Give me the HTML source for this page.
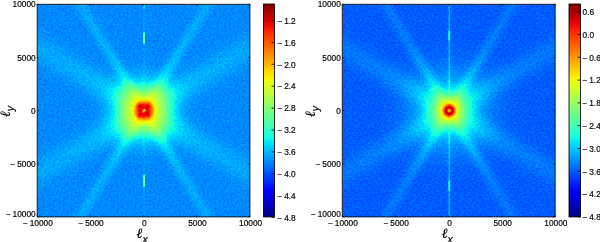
<!DOCTYPE html>
<html><head><meta charset="utf-8"><style>
html,body{margin:0;padding:0;background:#fff;width:600px;height:242px;overflow:hidden}
svg{position:absolute;left:0;top:0;display:block}
.tk{font-family:"Liberation Sans",sans-serif;font-size:8.3px;fill:#000;stroke:#000;stroke-width:0.18px}
.txt{opacity:0.99}
.al{font-family:"Liberation Serif",serif;font-style:italic;font-size:14px;fill:#000;stroke:#000;stroke-width:0.2px}
.sb{font-family:"Liberation Sans",sans-serif;font-style:italic;font-size:10.5px}
</style></head><body>
<svg width="600" height="242" viewBox="0 0 600 242">
<defs>
<filter id="jL" filterUnits="userSpaceOnUse" x="0" y="0" width="212.7" height="212.6" color-interpolation-filters="sRGB">
<feTurbulence type="fractalNoise" baseFrequency="0.5" numOctaves="2" seed="3" result="t"/>
<feColorMatrix in="t" type="matrix" values="1 0 0 0 0 1 0 0 0 0 1 0 0 0 0 0 0 0 0 1" result="n"/>
<feComposite in="SourceGraphic" in2="n" operator="arithmetic" k1="0" k2="1" k3="0.085" k4="-0.0425" result="s"/>
<feComponentTransfer in="s">
<feFuncR type="table" tableValues="0 0 0 0 0 0 0 0 0 0 0 0 0 0 0 0 0 0 0 0 0 0 0 0 0 0 0 0 0 0 0 0 0 0 0.0134 0.047 0.0806 0.114 0.148 0.181 0.215 0.249 0.282 0.316 0.349 0.383 0.417 0.45 0.484 0.517 0.551 0.585 0.618 0.652 0.685 0.719 0.753 0.786 0.82 0.853 0.887 0.921 0.954 0.988 1 1 1 1 1 1 1 1 1 1 1 1 1 1 1 1 1 1 1 1 1 1 0.973 0.926 0.879 0.831 0.784 0.737 0.689 0.642 0.595 0.547 0.5"/>
<feFuncG type="table" tableValues="0 0 0 0 0 0 0 0 0 0 0 0 0 0.0417 0.0833 0.125 0.167 0.208 0.25 0.292 0.333 0.375 0.417 0.458 0.5 0.542 0.583 0.625 0.667 0.708 0.75 0.792 0.833 0.875 0.917 0.958 1 1 1 1 1 1 1 1 1 1 1 1 1 1 1 1 1 1 1 1 1 1 1 1 1 1 0.978 0.94 0.901 0.863 0.824 0.785 0.747 0.708 0.67 0.631 0.593 0.554 0.515 0.477 0.438 0.4 0.361 0.323 0.284 0.245 0.207 0.168 0.13 0.091 0.0525 0.0139 0 0 0 0 0 0 0 0 0"/>
<feFuncB type="table" tableValues="0.5 0.547 0.595 0.642 0.689 0.737 0.784 0.831 0.879 0.926 0.973 1 1 1 1 1 1 1 1 1 1 1 1 1 1 1 1 1 1 1 1 1 1 0.988 0.954 0.921 0.887 0.853 0.82 0.786 0.753 0.719 0.685 0.652 0.618 0.585 0.551 0.517 0.484 0.45 0.417 0.383 0.349 0.316 0.282 0.249 0.215 0.181 0.148 0.114 0.0806 0.047 0.0134 0 0 0 0 0 0 0 0 0 0 0 0 0 0 0 0 0 0 0 0 0 0 0 0 0 0 0 0 0 0 0 0 0 0"/>
</feComponentTransfer>
</filter>
<filter id="jR" filterUnits="userSpaceOnUse" x="0" y="0" width="212.9" height="212.6" color-interpolation-filters="sRGB">
<feTurbulence type="fractalNoise" baseFrequency="0.5" numOctaves="2" seed="7" result="t"/>
<feColorMatrix in="t" type="matrix" values="1 0 0 0 0 1 0 0 0 0 1 0 0 0 0 0 0 0 0 1" result="n"/>
<feComposite in="SourceGraphic" in2="n" operator="arithmetic" k1="0" k2="1" k3="0.085" k4="-0.0425" result="s"/>
<feComponentTransfer in="s">
<feFuncR type="table" tableValues="0 0 0 0 0 0 0 0 0 0 0 0 0 0 0 0 0 0 0 0 0 0 0 0 0 0 0 0 0 0 0 0 0 0 0.0134 0.047 0.0806 0.114 0.148 0.181 0.215 0.249 0.282 0.316 0.349 0.383 0.417 0.45 0.484 0.517 0.551 0.585 0.618 0.652 0.685 0.719 0.753 0.786 0.82 0.853 0.887 0.921 0.954 0.988 1 1 1 1 1 1 1 1 1 1 1 1 1 1 1 1 1 1 1 1 1 1 0.973 0.926 0.879 0.831 0.784 0.737 0.689 0.642 0.595 0.547 0.5"/>
<feFuncG type="table" tableValues="0 0 0 0 0 0 0 0 0 0 0 0 0 0.0417 0.0833 0.125 0.167 0.208 0.25 0.292 0.333 0.375 0.417 0.458 0.5 0.542 0.583 0.625 0.667 0.708 0.75 0.792 0.833 0.875 0.917 0.958 1 1 1 1 1 1 1 1 1 1 1 1 1 1 1 1 1 1 1 1 1 1 1 1 1 1 0.978 0.94 0.901 0.863 0.824 0.785 0.747 0.708 0.67 0.631 0.593 0.554 0.515 0.477 0.438 0.4 0.361 0.323 0.284 0.245 0.207 0.168 0.13 0.091 0.0525 0.0139 0 0 0 0 0 0 0 0 0"/>
<feFuncB type="table" tableValues="0.5 0.547 0.595 0.642 0.689 0.737 0.784 0.831 0.879 0.926 0.973 1 1 1 1 1 1 1 1 1 1 1 1 1 1 1 1 1 1 1 1 1 1 0.988 0.954 0.921 0.887 0.853 0.82 0.786 0.753 0.719 0.685 0.652 0.618 0.585 0.551 0.517 0.484 0.45 0.417 0.383 0.349 0.316 0.282 0.249 0.215 0.181 0.148 0.114 0.0806 0.047 0.0134 0 0 0 0 0 0 0 0 0 0 0 0 0 0 0 0 0 0 0 0 0 0 0 0 0 0 0 0 0 0 0 0 0 0"/>
</feComponentTransfer>
</filter>
<filter id="Lsb0" filterUnits="userSpaceOnUse" x="-200" y="-60" width="400" height="120"><feGaussianBlur stdDeviation="3"/></filter><linearGradient id="Lsg0" x1="-160" y1="0" x2="160" y2="0" gradientUnits="userSpaceOnUse"><stop offset="0.0000" stop-color="#fff" stop-opacity="0.050"/><stop offset="0.2500" stop-color="#fff" stop-opacity="0.070"/><stop offset="0.3438" stop-color="#fff" stop-opacity="0.105"/><stop offset="0.4062" stop-color="#fff" stop-opacity="0.150"/><stop offset="0.4625" stop-color="#fff" stop-opacity="0.180"/><stop offset="0.5000" stop-color="#fff" stop-opacity="0.000"/><stop offset="0.5375" stop-color="#fff" stop-opacity="0.180"/><stop offset="0.5938" stop-color="#fff" stop-opacity="0.150"/><stop offset="0.6562" stop-color="#fff" stop-opacity="0.105"/><stop offset="0.7500" stop-color="#fff" stop-opacity="0.070"/><stop offset="1.0000" stop-color="#fff" stop-opacity="0.050"/></linearGradient><filter id="Lsb1" filterUnits="userSpaceOnUse" x="-200" y="-60" width="400" height="120"><feGaussianBlur stdDeviation="3"/></filter><linearGradient id="Lsg1" x1="-160" y1="0" x2="160" y2="0" gradientUnits="userSpaceOnUse"><stop offset="0.0000" stop-color="#fff" stop-opacity="0.050"/><stop offset="0.2500" stop-color="#fff" stop-opacity="0.070"/><stop offset="0.3438" stop-color="#fff" stop-opacity="0.105"/><stop offset="0.4062" stop-color="#fff" stop-opacity="0.150"/><stop offset="0.4625" stop-color="#fff" stop-opacity="0.180"/><stop offset="0.5000" stop-color="#fff" stop-opacity="0.000"/><stop offset="0.5375" stop-color="#fff" stop-opacity="0.180"/><stop offset="0.5938" stop-color="#fff" stop-opacity="0.150"/><stop offset="0.6562" stop-color="#fff" stop-opacity="0.105"/><stop offset="0.7500" stop-color="#fff" stop-opacity="0.070"/><stop offset="1.0000" stop-color="#fff" stop-opacity="0.050"/></linearGradient><filter id="Lsb2" filterUnits="userSpaceOnUse" x="-200" y="-60" width="400" height="120"><feGaussianBlur stdDeviation="7"/></filter><linearGradient id="Lsg2" x1="-160" y1="0" x2="160" y2="0" gradientUnits="userSpaceOnUse"><stop offset="0.0000" stop-color="#fff" stop-opacity="0.040"/><stop offset="0.2500" stop-color="#fff" stop-opacity="0.060"/><stop offset="0.3438" stop-color="#fff" stop-opacity="0.080"/><stop offset="0.4062" stop-color="#fff" stop-opacity="0.110"/><stop offset="0.4625" stop-color="#fff" stop-opacity="0.140"/><stop offset="0.5000" stop-color="#fff" stop-opacity="0.000"/><stop offset="0.5375" stop-color="#fff" stop-opacity="0.140"/><stop offset="0.5938" stop-color="#fff" stop-opacity="0.110"/><stop offset="0.6562" stop-color="#fff" stop-opacity="0.080"/><stop offset="0.7500" stop-color="#fff" stop-opacity="0.060"/><stop offset="1.0000" stop-color="#fff" stop-opacity="0.040"/></linearGradient><filter id="Lsb3" filterUnits="userSpaceOnUse" x="-200" y="-60" width="400" height="120"><feGaussianBlur stdDeviation="7"/></filter><linearGradient id="Lsg3" x1="-160" y1="0" x2="160" y2="0" gradientUnits="userSpaceOnUse"><stop offset="0.0000" stop-color="#fff" stop-opacity="0.040"/><stop offset="0.2500" stop-color="#fff" stop-opacity="0.060"/><stop offset="0.3438" stop-color="#fff" stop-opacity="0.080"/><stop offset="0.4062" stop-color="#fff" stop-opacity="0.110"/><stop offset="0.4625" stop-color="#fff" stop-opacity="0.140"/><stop offset="0.5000" stop-color="#fff" stop-opacity="0.000"/><stop offset="0.5375" stop-color="#fff" stop-opacity="0.140"/><stop offset="0.5938" stop-color="#fff" stop-opacity="0.110"/><stop offset="0.6562" stop-color="#fff" stop-opacity="0.080"/><stop offset="0.7500" stop-color="#fff" stop-opacity="0.060"/><stop offset="1.0000" stop-color="#fff" stop-opacity="0.040"/></linearGradient><filter id="Lqb0" filterUnits="userSpaceOnUse" x="-150" y="-150" width="300" height="300"><feGaussianBlur stdDeviation="4.2821514006054"/></filter><filter id="Lqb1" filterUnits="userSpaceOnUse" x="-150" y="-150" width="300" height="300"><feGaussianBlur stdDeviation="4.000000000000001"/></filter><filter id="Lqb2" filterUnits="userSpaceOnUse" x="-150" y="-150" width="300" height="300"><feGaussianBlur stdDeviation="17.001211208011913"/></filter><radialGradient id="Lrg" cx="0" cy="0" r="14" gradientUnits="userSpaceOnUse"><stop offset="0.000" stop-color="#fff" stop-opacity="0.000"/><stop offset="0.033" stop-color="#fff" stop-opacity="0.150"/><stop offset="0.067" stop-color="#fff" stop-opacity="0.300"/><stop offset="0.100" stop-color="#fff" stop-opacity="0.451"/><stop offset="0.133" stop-color="#fff" stop-opacity="0.527"/><stop offset="0.167" stop-color="#fff" stop-opacity="0.583"/><stop offset="0.200" stop-color="#fff" stop-opacity="0.640"/><stop offset="0.233" stop-color="#fff" stop-opacity="0.658"/><stop offset="0.267" stop-color="#fff" stop-opacity="0.648"/><stop offset="0.300" stop-color="#fff" stop-opacity="0.639"/><stop offset="0.333" stop-color="#fff" stop-opacity="0.618"/><stop offset="0.367" stop-color="#fff" stop-opacity="0.578"/><stop offset="0.400" stop-color="#fff" stop-opacity="0.538"/><stop offset="0.433" stop-color="#fff" stop-opacity="0.497"/><stop offset="0.467" stop-color="#fff" stop-opacity="0.446"/><stop offset="0.500" stop-color="#fff" stop-opacity="0.396"/><stop offset="0.533" stop-color="#fff" stop-opacity="0.345"/><stop offset="0.567" stop-color="#fff" stop-opacity="0.298"/><stop offset="0.600" stop-color="#fff" stop-opacity="0.251"/><stop offset="0.633" stop-color="#fff" stop-opacity="0.203"/><stop offset="0.667" stop-color="#fff" stop-opacity="0.164"/><stop offset="0.700" stop-color="#fff" stop-opacity="0.127"/><stop offset="0.733" stop-color="#fff" stop-opacity="0.090"/><stop offset="0.767" stop-color="#fff" stop-opacity="0.062"/><stop offset="0.800" stop-color="#fff" stop-opacity="0.043"/><stop offset="0.833" stop-color="#fff" stop-opacity="0.023"/><stop offset="0.867" stop-color="#fff" stop-opacity="0.009"/><stop offset="0.900" stop-color="#fff" stop-opacity="0.007"/><stop offset="0.933" stop-color="#fff" stop-opacity="0.004"/><stop offset="0.967" stop-color="#fff" stop-opacity="0.002"/><stop offset="1.000" stop-color="#fff" stop-opacity="0.000"/></radialGradient><filter id="Lvb1" filterUnits="userSpaceOnUse" x="-10" y="-120" width="20" height="240"><feGaussianBlur stdDeviation="0.6"/></filter><filter id="Lvb2" filterUnits="userSpaceOnUse" x="-10" y="-120" width="20" height="240"><feGaussianBlur stdDeviation="0.7"/></filter><filter id="Lvb3" filterUnits="userSpaceOnUse" x="-10" y="-120" width="20" height="240"><feGaussianBlur stdDeviation="0.7"/></filter><filter id="Rsb0" filterUnits="userSpaceOnUse" x="-200" y="-60" width="400" height="120"><feGaussianBlur stdDeviation="3"/></filter><linearGradient id="Rsg0" x1="-160" y1="0" x2="160" y2="0" gradientUnits="userSpaceOnUse"><stop offset="0.0000" stop-color="#fff" stop-opacity="0.030"/><stop offset="0.2500" stop-color="#fff" stop-opacity="0.060"/><stop offset="0.3438" stop-color="#fff" stop-opacity="0.095"/><stop offset="0.4062" stop-color="#fff" stop-opacity="0.130"/><stop offset="0.4625" stop-color="#fff" stop-opacity="0.150"/><stop offset="0.5000" stop-color="#fff" stop-opacity="0.000"/><stop offset="0.5375" stop-color="#fff" stop-opacity="0.150"/><stop offset="0.5938" stop-color="#fff" stop-opacity="0.130"/><stop offset="0.6562" stop-color="#fff" stop-opacity="0.095"/><stop offset="0.7500" stop-color="#fff" stop-opacity="0.060"/><stop offset="1.0000" stop-color="#fff" stop-opacity="0.030"/></linearGradient><filter id="Rsb1" filterUnits="userSpaceOnUse" x="-200" y="-60" width="400" height="120"><feGaussianBlur stdDeviation="3"/></filter><linearGradient id="Rsg1" x1="-160" y1="0" x2="160" y2="0" gradientUnits="userSpaceOnUse"><stop offset="0.0000" stop-color="#fff" stop-opacity="0.030"/><stop offset="0.2500" stop-color="#fff" stop-opacity="0.060"/><stop offset="0.3438" stop-color="#fff" stop-opacity="0.095"/><stop offset="0.4062" stop-color="#fff" stop-opacity="0.130"/><stop offset="0.4625" stop-color="#fff" stop-opacity="0.150"/><stop offset="0.5000" stop-color="#fff" stop-opacity="0.000"/><stop offset="0.5375" stop-color="#fff" stop-opacity="0.150"/><stop offset="0.5938" stop-color="#fff" stop-opacity="0.130"/><stop offset="0.6562" stop-color="#fff" stop-opacity="0.095"/><stop offset="0.7500" stop-color="#fff" stop-opacity="0.060"/><stop offset="1.0000" stop-color="#fff" stop-opacity="0.030"/></linearGradient><filter id="Rsb2" filterUnits="userSpaceOnUse" x="-200" y="-60" width="400" height="120"><feGaussianBlur stdDeviation="6"/></filter><linearGradient id="Rsg2" x1="-160" y1="0" x2="160" y2="0" gradientUnits="userSpaceOnUse"><stop offset="0.0000" stop-color="#fff" stop-opacity="0.035"/><stop offset="0.2500" stop-color="#fff" stop-opacity="0.050"/><stop offset="0.3438" stop-color="#fff" stop-opacity="0.070"/><stop offset="0.4062" stop-color="#fff" stop-opacity="0.090"/><stop offset="0.4625" stop-color="#fff" stop-opacity="0.110"/><stop offset="0.5000" stop-color="#fff" stop-opacity="0.000"/><stop offset="0.5375" stop-color="#fff" stop-opacity="0.110"/><stop offset="0.5938" stop-color="#fff" stop-opacity="0.090"/><stop offset="0.6562" stop-color="#fff" stop-opacity="0.070"/><stop offset="0.7500" stop-color="#fff" stop-opacity="0.050"/><stop offset="1.0000" stop-color="#fff" stop-opacity="0.035"/></linearGradient><filter id="Rsb3" filterUnits="userSpaceOnUse" x="-200" y="-60" width="400" height="120"><feGaussianBlur stdDeviation="6"/></filter><linearGradient id="Rsg3" x1="-160" y1="0" x2="160" y2="0" gradientUnits="userSpaceOnUse"><stop offset="0.0000" stop-color="#fff" stop-opacity="0.035"/><stop offset="0.2500" stop-color="#fff" stop-opacity="0.050"/><stop offset="0.3438" stop-color="#fff" stop-opacity="0.070"/><stop offset="0.4062" stop-color="#fff" stop-opacity="0.090"/><stop offset="0.4625" stop-color="#fff" stop-opacity="0.110"/><stop offset="0.5000" stop-color="#fff" stop-opacity="0.000"/><stop offset="0.5375" stop-color="#fff" stop-opacity="0.110"/><stop offset="0.5938" stop-color="#fff" stop-opacity="0.090"/><stop offset="0.6562" stop-color="#fff" stop-opacity="0.070"/><stop offset="0.7500" stop-color="#fff" stop-opacity="0.050"/><stop offset="1.0000" stop-color="#fff" stop-opacity="0.035"/></linearGradient><filter id="Rqb0" filterUnits="userSpaceOnUse" x="-150" y="-150" width="300" height="300"><feGaussianBlur stdDeviation="10.549509258770001"/></filter><filter id="Rqb1" filterUnits="userSpaceOnUse" x="-150" y="-150" width="300" height="300"><feGaussianBlur stdDeviation="3.1570138598682327"/></filter><filter id="Rqb2" filterUnits="userSpaceOnUse" x="-150" y="-150" width="300" height="300"><feGaussianBlur stdDeviation="24.43419254232539"/></filter><radialGradient id="Rrg" cx="0" cy="0" r="10" gradientUnits="userSpaceOnUse"><stop offset="0.000" stop-color="#fff" stop-opacity="0.000"/><stop offset="0.033" stop-color="#fff" stop-opacity="0.058"/><stop offset="0.067" stop-color="#fff" stop-opacity="0.117"/><stop offset="0.100" stop-color="#fff" stop-opacity="0.175"/><stop offset="0.133" stop-color="#fff" stop-opacity="0.328"/><stop offset="0.167" stop-color="#fff" stop-opacity="0.481"/><stop offset="0.200" stop-color="#fff" stop-opacity="0.634"/><stop offset="0.233" stop-color="#fff" stop-opacity="0.708"/><stop offset="0.267" stop-color="#fff" stop-opacity="0.783"/><stop offset="0.300" stop-color="#fff" stop-opacity="0.858"/><stop offset="0.333" stop-color="#fff" stop-opacity="0.831"/><stop offset="0.367" stop-color="#fff" stop-opacity="0.804"/><stop offset="0.400" stop-color="#fff" stop-opacity="0.777"/><stop offset="0.433" stop-color="#fff" stop-opacity="0.711"/><stop offset="0.467" stop-color="#fff" stop-opacity="0.646"/><stop offset="0.500" stop-color="#fff" stop-opacity="0.580"/><stop offset="0.533" stop-color="#fff" stop-opacity="0.511"/><stop offset="0.567" stop-color="#fff" stop-opacity="0.442"/><stop offset="0.600" stop-color="#fff" stop-opacity="0.373"/><stop offset="0.633" stop-color="#fff" stop-opacity="0.305"/><stop offset="0.667" stop-color="#fff" stop-opacity="0.237"/><stop offset="0.700" stop-color="#fff" stop-opacity="0.170"/><stop offset="0.733" stop-color="#fff" stop-opacity="0.151"/><stop offset="0.767" stop-color="#fff" stop-opacity="0.133"/><stop offset="0.800" stop-color="#fff" stop-opacity="0.115"/><stop offset="0.833" stop-color="#fff" stop-opacity="0.095"/><stop offset="0.867" stop-color="#fff" stop-opacity="0.076"/><stop offset="0.900" stop-color="#fff" stop-opacity="0.057"/><stop offset="0.933" stop-color="#fff" stop-opacity="0.038"/><stop offset="0.967" stop-color="#fff" stop-opacity="0.019"/><stop offset="1.000" stop-color="#fff" stop-opacity="0.000"/></radialGradient><filter id="Rvb1" filterUnits="userSpaceOnUse" x="-10" y="-120" width="20" height="240"><feGaussianBlur stdDeviation="0.8"/></filter><filter id="Rvb2" filterUnits="userSpaceOnUse" x="-10" y="-120" width="20" height="240"><feGaussianBlur stdDeviation="0.7"/></filter><filter id="Rvb3" filterUnits="userSpaceOnUse" x="-10" y="-120" width="20" height="240"><feGaussianBlur stdDeviation="0.7"/></filter>
<linearGradient id="cg" x1="0" y1="0" x2="0" y2="1"><stop offset="0.0000" stop-color="#800000"/><stop offset="0.0250" stop-color="#9c0000"/><stop offset="0.0500" stop-color="#b90000"/><stop offset="0.0750" stop-color="#d60000"/><stop offset="0.1000" stop-color="#f30900"/><stop offset="0.1250" stop-color="#ff2100"/><stop offset="0.1500" stop-color="#ff3900"/><stop offset="0.1750" stop-color="#ff5000"/><stop offset="0.2000" stop-color="#ff6800"/><stop offset="0.2250" stop-color="#ff8000"/><stop offset="0.2500" stop-color="#ff9700"/><stop offset="0.2750" stop-color="#ffaf00"/><stop offset="0.3000" stop-color="#ffc600"/><stop offset="0.3250" stop-color="#ffde00"/><stop offset="0.3500" stop-color="#f7f600"/><stop offset="0.3750" stop-color="#e2ff15"/><stop offset="0.4000" stop-color="#ceff29"/><stop offset="0.4250" stop-color="#b9ff3e"/><stop offset="0.4500" stop-color="#a5ff52"/><stop offset="0.4750" stop-color="#90ff67"/><stop offset="0.5000" stop-color="#7bff7b"/><stop offset="0.5250" stop-color="#67ff90"/><stop offset="0.5500" stop-color="#52ffa5"/><stop offset="0.5750" stop-color="#3effb9"/><stop offset="0.6000" stop-color="#29ffce"/><stop offset="0.6250" stop-color="#15ffe2"/><stop offset="0.6500" stop-color="#00e5f7"/><stop offset="0.6750" stop-color="#00ccff"/><stop offset="0.7000" stop-color="#00b3ff"/><stop offset="0.7250" stop-color="#0099ff"/><stop offset="0.7500" stop-color="#0080ff"/><stop offset="0.7750" stop-color="#0066ff"/><stop offset="0.8000" stop-color="#004cff"/><stop offset="0.8250" stop-color="#0033ff"/><stop offset="0.8500" stop-color="#001aff"/><stop offset="0.8750" stop-color="#0000ff"/><stop offset="0.9000" stop-color="#0000f3"/><stop offset="0.9250" stop-color="#0000d6"/><stop offset="0.9500" stop-color="#0000b9"/><stop offset="0.9750" stop-color="#00009c"/><stop offset="1.0000" stop-color="#000080"/></linearGradient>
<filter id="Llb" filterUnits="userSpaceOnUse" x="-20" y="-20" width="40" height="40"><feGaussianBlur stdDeviation="1.2"/></filter><filter id="Lcb" filterUnits="userSpaceOnUse" x="-10" y="-10" width="20" height="20"><feGaussianBlur stdDeviation="0.5"/></filter>
<clipPath id="cpL"><rect x="0" y="0" width="212.7" height="212.6"/></clipPath>
<clipPath id="cpR"><rect x="0" y="0" width="212.9" height="212.6"/></clipPath>
</defs>
<g transform="translate(37.2,4.3)" clip-path="url(#cpL)"><g filter="url(#jL)"><rect x="0" y="0" width="212.7" height="212.6" fill="rgb(66,66,66)"/><g transform="translate(106.8,106.3)"><g transform="rotate(-59)"><rect x="-160" y="-3.5" width="320" height="7" fill="url(#Lsg0)" filter="url(#Lsb0)"/></g><g transform="rotate(59)"><rect x="-160" y="-3.5" width="320" height="7" fill="url(#Lsg1)" filter="url(#Lsb1)"/></g><g transform="rotate(-30.5)"><rect x="-160" y="-9.0" width="320" height="18" fill="url(#Lsg2)" filter="url(#Lsb2)"/></g><g transform="rotate(30.5)"><rect x="-160" y="-9.0" width="320" height="18" fill="url(#Lsg3)" filter="url(#Lsb3)"/></g><rect x="-23.880187772122422" y="-23.880187772122422" width="47.760375544244845" height="47.760375544244845" fill="#fff" fill-opacity="0.10063951691816293" filter="url(#Lqb0)"/><rect x="-8.702794003118951" y="-8.702794003118951" width="17.405588006237902" height="17.405588006237902" fill="#fff" fill-opacity="0.37599596331899765" filter="url(#Lqb1)"/><rect x="-14.022601386566302" y="-14.022601386566302" width="28.045202773132605" height="28.045202773132605" fill="#fff" fill-opacity="0.9999970762533725" filter="url(#Lqb2)"/><circle cx="0" cy="0" r="14" fill="url(#Lrg)"/><g filter="url(#Llb)"><circle cx="-4.8" cy="-4.6" r="2" fill="#fff" fill-opacity="0.55"/><circle cx="4.6" cy="-5" r="2" fill="#fff" fill-opacity="0.55"/><circle cx="-4.5" cy="4.8" r="2" fill="#fff" fill-opacity="0.55"/><circle cx="4.3" cy="4.3" r="2" fill="#fff" fill-opacity="0.55"/></g><ellipse cx="0" cy="0" rx="2.2" ry="0.9" transform="rotate(-40)" fill="rgb(160,160,160)" fill-opacity="0.9" filter="url(#Lcb)"/><rect x="-0.5" y="-107" width="1" height="214" fill="#fff" fill-opacity="0.05"/><rect x="-0.75" y="-107" width="1.5" height="5" fill="#fff" fill-opacity="0.12" filter="url(#Lvb1)"/><rect x="-1.0" y="-78" width="2" height="11" fill="#fff" fill-opacity="0.2" filter="url(#Lvb2)"/><rect x="-1.0" y="64" width="2" height="12" fill="#fff" fill-opacity="0.2" filter="url(#Lvb3)"/><rect x="-0.5" y="-77" width="1" height="9" fill="#fff" fill-opacity="0.2"/><rect x="-0.5" y="65" width="1" height="10" fill="#fff" fill-opacity="0.2"/></g></g></g>
<g transform="translate(342.3,4.3)" clip-path="url(#cpR)"><g filter="url(#jR)"><rect x="0" y="0" width="212.9" height="212.6" fill="rgb(55,55,55)"/><g transform="translate(106.89999999999998,106.3)"><g transform="rotate(-59)"><rect x="-160" y="-3.5" width="320" height="7" fill="url(#Rsg0)" filter="url(#Rsb0)"/></g><g transform="rotate(59)"><rect x="-160" y="-3.5" width="320" height="7" fill="url(#Rsg1)" filter="url(#Rsb1)"/></g><g transform="rotate(-30.5)"><rect x="-160" y="-8.0" width="320" height="16" fill="url(#Rsg2)" filter="url(#Rsb2)"/></g><g transform="rotate(30.5)"><rect x="-160" y="-8.0" width="320" height="16" fill="url(#Rsg3)" filter="url(#Rsb3)"/></g><rect x="-7.880199190839899" y="-7.880199190839899" width="15.760398381679797" height="15.760398381679797" fill="#fff" fill-opacity="0.9999999999999999" filter="url(#Rqb0)"/><rect x="-10.964800221122433" y="-10.964800221122433" width="21.929600442244865" height="21.929600442244865" fill="#fff" fill-opacity="0.13361904998963162" filter="url(#Rqb1)"/><rect x="-13.297021375494547" y="-13.297021375494547" width="26.594042750989093" height="26.594042750989093" fill="#fff" fill-opacity="0.9994813233036371" filter="url(#Rqb2)"/><circle cx="0" cy="0" r="10" fill="url(#Rrg)"/><rect x="-0.6" y="-107" width="1.2" height="214" fill="#fff" fill-opacity="0.1"/><rect x="-1.5" y="-107" width="3" height="214" fill="#fff" fill-opacity="0.03" filter="url(#Rvb1)"/><rect x="-1.0" y="-80" width="2" height="10" fill="#fff" fill-opacity="0.15" filter="url(#Rvb2)"/><rect x="-1.0" y="70" width="2" height="10" fill="#fff" fill-opacity="0.15" filter="url(#Rvb3)"/></g></g></g>
<rect x="37.2" y="4.3" width="212.7" height="212.6" fill="none" stroke="#000" stroke-width="1" stroke-opacity="0.85"/><line x1="37.20" y1="4.3" x2="37.20" y2="6.3" stroke="#000" stroke-width="0.8" stroke-opacity="0.6"/><line x1="37.20" y1="216.9" x2="37.20" y2="214.9" stroke="#000" stroke-width="0.8" stroke-opacity="0.6"/><line x1="37.2" y1="4.30" x2="39.2" y2="4.30" stroke="#000" stroke-width="0.8" stroke-opacity="0.6"/><line x1="249.89999999999998" y1="4.30" x2="247.89999999999998" y2="4.30" stroke="#000" stroke-width="0.8" stroke-opacity="0.6"/><line x1="90.38" y1="4.3" x2="90.38" y2="6.3" stroke="#000" stroke-width="0.8" stroke-opacity="0.6"/><line x1="90.38" y1="216.9" x2="90.38" y2="214.9" stroke="#000" stroke-width="0.8" stroke-opacity="0.6"/><line x1="37.2" y1="57.45" x2="39.2" y2="57.45" stroke="#000" stroke-width="0.8" stroke-opacity="0.6"/><line x1="249.89999999999998" y1="57.45" x2="247.89999999999998" y2="57.45" stroke="#000" stroke-width="0.8" stroke-opacity="0.6"/><line x1="143.55" y1="4.3" x2="143.55" y2="6.3" stroke="#000" stroke-width="0.8" stroke-opacity="0.6"/><line x1="143.55" y1="216.9" x2="143.55" y2="214.9" stroke="#000" stroke-width="0.8" stroke-opacity="0.6"/><line x1="37.2" y1="110.60" x2="39.2" y2="110.60" stroke="#000" stroke-width="0.8" stroke-opacity="0.6"/><line x1="249.89999999999998" y1="110.60" x2="247.89999999999998" y2="110.60" stroke="#000" stroke-width="0.8" stroke-opacity="0.6"/><line x1="196.72" y1="4.3" x2="196.72" y2="6.3" stroke="#000" stroke-width="0.8" stroke-opacity="0.6"/><line x1="196.72" y1="216.9" x2="196.72" y2="214.9" stroke="#000" stroke-width="0.8" stroke-opacity="0.6"/><line x1="37.2" y1="163.75" x2="39.2" y2="163.75" stroke="#000" stroke-width="0.8" stroke-opacity="0.6"/><line x1="249.89999999999998" y1="163.75" x2="247.89999999999998" y2="163.75" stroke="#000" stroke-width="0.8" stroke-opacity="0.6"/><line x1="249.90" y1="4.3" x2="249.90" y2="6.3" stroke="#000" stroke-width="0.8" stroke-opacity="0.6"/><line x1="249.90" y1="216.9" x2="249.90" y2="214.9" stroke="#000" stroke-width="0.8" stroke-opacity="0.6"/><line x1="37.2" y1="216.90" x2="39.2" y2="216.90" stroke="#000" stroke-width="0.8" stroke-opacity="0.6"/><line x1="249.89999999999998" y1="216.90" x2="247.89999999999998" y2="216.90" stroke="#000" stroke-width="0.8" stroke-opacity="0.6"/>
<rect x="342.3" y="4.3" width="212.9" height="212.6" fill="none" stroke="#000" stroke-width="1" stroke-opacity="0.85"/><line x1="342.30" y1="4.3" x2="342.30" y2="6.3" stroke="#000" stroke-width="0.8" stroke-opacity="0.6"/><line x1="342.30" y1="216.9" x2="342.30" y2="214.9" stroke="#000" stroke-width="0.8" stroke-opacity="0.6"/><line x1="342.3" y1="4.30" x2="344.3" y2="4.30" stroke="#000" stroke-width="0.8" stroke-opacity="0.6"/><line x1="555.2" y1="4.30" x2="553.2" y2="4.30" stroke="#000" stroke-width="0.8" stroke-opacity="0.6"/><line x1="395.53" y1="4.3" x2="395.53" y2="6.3" stroke="#000" stroke-width="0.8" stroke-opacity="0.6"/><line x1="395.53" y1="216.9" x2="395.53" y2="214.9" stroke="#000" stroke-width="0.8" stroke-opacity="0.6"/><line x1="342.3" y1="57.45" x2="344.3" y2="57.45" stroke="#000" stroke-width="0.8" stroke-opacity="0.6"/><line x1="555.2" y1="57.45" x2="553.2" y2="57.45" stroke="#000" stroke-width="0.8" stroke-opacity="0.6"/><line x1="448.75" y1="4.3" x2="448.75" y2="6.3" stroke="#000" stroke-width="0.8" stroke-opacity="0.6"/><line x1="448.75" y1="216.9" x2="448.75" y2="214.9" stroke="#000" stroke-width="0.8" stroke-opacity="0.6"/><line x1="342.3" y1="110.60" x2="344.3" y2="110.60" stroke="#000" stroke-width="0.8" stroke-opacity="0.6"/><line x1="555.2" y1="110.60" x2="553.2" y2="110.60" stroke="#000" stroke-width="0.8" stroke-opacity="0.6"/><line x1="501.98" y1="4.3" x2="501.98" y2="6.3" stroke="#000" stroke-width="0.8" stroke-opacity="0.6"/><line x1="501.98" y1="216.9" x2="501.98" y2="214.9" stroke="#000" stroke-width="0.8" stroke-opacity="0.6"/><line x1="342.3" y1="163.75" x2="344.3" y2="163.75" stroke="#000" stroke-width="0.8" stroke-opacity="0.6"/><line x1="555.2" y1="163.75" x2="553.2" y2="163.75" stroke="#000" stroke-width="0.8" stroke-opacity="0.6"/><line x1="555.20" y1="4.3" x2="555.20" y2="6.3" stroke="#000" stroke-width="0.8" stroke-opacity="0.6"/><line x1="555.20" y1="216.9" x2="555.20" y2="214.9" stroke="#000" stroke-width="0.8" stroke-opacity="0.6"/><line x1="342.3" y1="216.90" x2="344.3" y2="216.90" stroke="#000" stroke-width="0.8" stroke-opacity="0.6"/><line x1="555.2" y1="216.90" x2="553.2" y2="216.90" stroke="#000" stroke-width="0.8" stroke-opacity="0.6"/>
<rect x="263.5" y="4.0" width="11.0" height="212.9" fill="url(#cg)"/><rect x="263.5" y="4.0" width="11.0" height="212.9" fill="none" stroke="#000" stroke-width="1" stroke-opacity="0.85"/><line x1="271.5" y1="20.50" x2="274.5" y2="20.50" stroke="#000" stroke-width="0.8"/><line x1="271.5" y1="42.40" x2="274.5" y2="42.40" stroke="#000" stroke-width="0.8"/><line x1="271.5" y1="64.30" x2="274.5" y2="64.30" stroke="#000" stroke-width="0.8"/><line x1="271.5" y1="86.20" x2="274.5" y2="86.20" stroke="#000" stroke-width="0.8"/><line x1="271.5" y1="108.10" x2="274.5" y2="108.10" stroke="#000" stroke-width="0.8"/><line x1="271.5" y1="130.00" x2="274.5" y2="130.00" stroke="#000" stroke-width="0.8"/><line x1="271.5" y1="151.90" x2="274.5" y2="151.90" stroke="#000" stroke-width="0.8"/><line x1="271.5" y1="173.80" x2="274.5" y2="173.80" stroke="#000" stroke-width="0.8"/><line x1="271.5" y1="195.70" x2="274.5" y2="195.70" stroke="#000" stroke-width="0.8"/><line x1="271.5" y1="217.60" x2="274.5" y2="217.60" stroke="#000" stroke-width="0.8"/>
<rect x="569.0" y="4.0" width="11.5" height="212.9" fill="url(#cg)"/><rect x="569.0" y="4.0" width="11.5" height="212.9" fill="none" stroke="#000" stroke-width="1" stroke-opacity="0.85"/><line x1="577.5" y1="11.70" x2="580.5" y2="11.70" stroke="#000" stroke-width="0.8"/><line x1="577.5" y1="34.50" x2="580.5" y2="34.50" stroke="#000" stroke-width="0.8"/><line x1="577.5" y1="57.30" x2="580.5" y2="57.30" stroke="#000" stroke-width="0.8"/><line x1="577.5" y1="80.10" x2="580.5" y2="80.10" stroke="#000" stroke-width="0.8"/><line x1="577.5" y1="102.90" x2="580.5" y2="102.90" stroke="#000" stroke-width="0.8"/><line x1="577.5" y1="125.70" x2="580.5" y2="125.70" stroke="#000" stroke-width="0.8"/><line x1="577.5" y1="148.50" x2="580.5" y2="148.50" stroke="#000" stroke-width="0.8"/><line x1="577.5" y1="171.30" x2="580.5" y2="171.30" stroke="#000" stroke-width="0.8"/><line x1="577.5" y1="194.10" x2="580.5" y2="194.10" stroke="#000" stroke-width="0.8"/><line x1="577.5" y1="216.90" x2="580.5" y2="216.90" stroke="#000" stroke-width="0.8"/>
<g class="txt"><text x="37.90" y="225.7" text-anchor="middle" class="tk">−<tspan dx="1.8">10000</tspan></text><text x="35.70" y="217.18" text-anchor="end" class="tk">−<tspan dx="1.8">10000</tspan></text><text x="91.08" y="225.7" text-anchor="middle" class="tk">−<tspan dx="1.8">5000</tspan></text><text x="35.70" y="166.98" text-anchor="end" class="tk">−<tspan dx="1.8">5000</tspan></text><text x="144.25" y="225.7" text-anchor="middle" class="tk">0</text><text x="35.70" y="113.58" text-anchor="end" class="tk">0</text><text x="197.42" y="225.7" text-anchor="middle" class="tk">5000</text><text x="35.70" y="60.68" text-anchor="end" class="tk">5000</text><text x="250.60" y="225.7" text-anchor="middle" class="tk">10000</text><text x="35.70" y="6.68" text-anchor="end" class="tk">10000</text><text x="136.55" y="238" class="al">ℓ<tspan class="sb" dy="4.5">x</tspan></text><text transform="translate(9.50,117.10) rotate(-90)" class="al">ℓ<tspan class="sb" dy="4.5">y</tspan></text><text x="343.00" y="225.7" text-anchor="middle" class="tk">−<tspan dx="1.8">10000</tspan></text><text x="340.80" y="217.18" text-anchor="end" class="tk">−<tspan dx="1.8">10000</tspan></text><text x="396.23" y="225.7" text-anchor="middle" class="tk">−<tspan dx="1.8">5000</tspan></text><text x="340.80" y="166.98" text-anchor="end" class="tk">−<tspan dx="1.8">5000</tspan></text><text x="449.45" y="225.7" text-anchor="middle" class="tk">0</text><text x="340.80" y="113.58" text-anchor="end" class="tk">0</text><text x="502.68" y="225.7" text-anchor="middle" class="tk">5000</text><text x="340.80" y="60.68" text-anchor="end" class="tk">5000</text><text x="555.90" y="225.7" text-anchor="middle" class="tk">10000</text><text x="340.80" y="6.68" text-anchor="end" class="tk">10000</text><text x="441.75" y="238" class="al">ℓ<tspan class="sb" dy="4.5">x</tspan></text><text transform="translate(314.60,117.10) rotate(-90)" class="al">ℓ<tspan class="sb" dy="4.5">y</tspan></text><text x="277.50" y="23.70" class="tk">−<tspan dx="1.8">1.2</tspan></text><text x="277.50" y="45.60" class="tk">−<tspan dx="1.8">1.6</tspan></text><text x="277.50" y="67.50" class="tk">−<tspan dx="1.8">2.0</tspan></text><text x="277.50" y="89.40" class="tk">−<tspan dx="1.8">2.4</tspan></text><text x="277.50" y="111.30" class="tk">−<tspan dx="1.8">2.8</tspan></text><text x="277.50" y="133.20" class="tk">−<tspan dx="1.8">3.2</tspan></text><text x="277.50" y="155.10" class="tk">−<tspan dx="1.8">3.6</tspan></text><text x="277.50" y="177.00" class="tk">−<tspan dx="1.8">4.0</tspan></text><text x="277.50" y="198.90" class="tk">−<tspan dx="1.8">4.4</tspan></text><text x="277.50" y="220.80" class="tk">−<tspan dx="1.8">4.8</tspan></text><text x="582.60" y="14.90" class="tk">0.6</text><text x="582.60" y="37.70" class="tk">0.0</text><text x="582.60" y="60.50" class="tk">−<tspan dx="1.8">0.6</tspan></text><text x="582.60" y="83.30" class="tk">−<tspan dx="1.8">1.2</tspan></text><text x="582.60" y="106.10" class="tk">−<tspan dx="1.8">1.8</tspan></text><text x="582.60" y="128.90" class="tk">−<tspan dx="1.8">2.4</tspan></text><text x="582.60" y="151.70" class="tk">−<tspan dx="1.8">3.0</tspan></text><text x="582.60" y="174.50" class="tk">−<tspan dx="1.8">3.6</tspan></text><text x="582.60" y="197.30" class="tk">−<tspan dx="1.8">4.2</tspan></text><text x="582.60" y="220.10" class="tk">−<tspan dx="1.8">4.8</tspan></text></g>
</svg>
</body></html>
